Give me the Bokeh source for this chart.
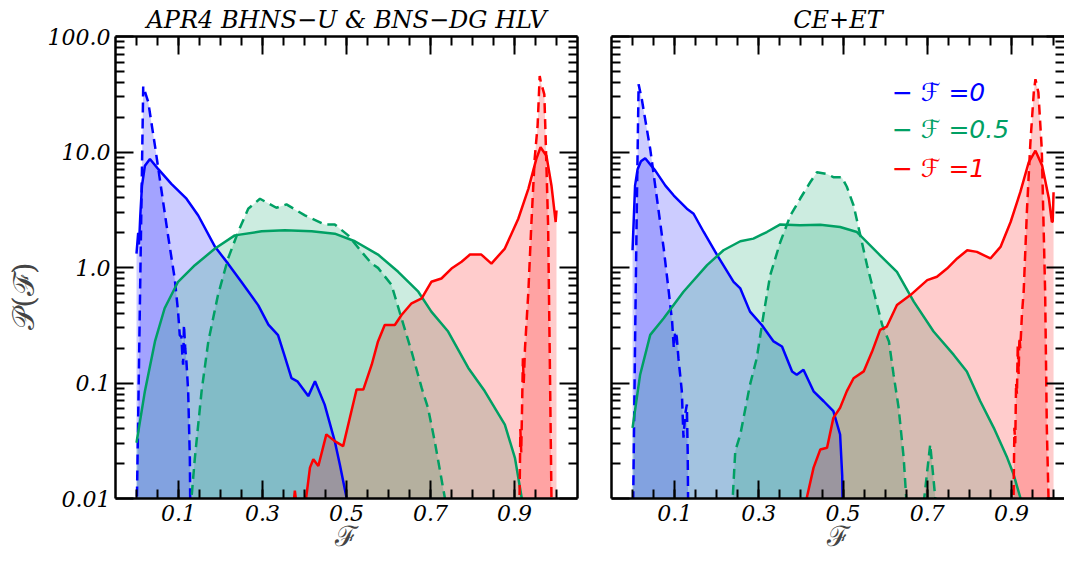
from bokeh.plotting import figure
from bokeh.layouts import row
from bokeh.models import FixedTicker, LogAxis, LinearAxis, Range1d
from bokeh.embed import file_html
from bokeh.resources import INLINE
from bokeh.core.properties import value

# ---------------- text / ticks ----------------
TITLE_LEFT = "APR4 BHNS\u2212U & BNS\u2212DG HLV"
TITLE_RIGHT = "CE+ET"
X_LABEL = "\u2131"
Y_LABEL = "\U0001D4AB(\u2131)"
Y_LABEL_PAD = "\u00a0" * 6
X_TICKS = [0.1, 0.3, 0.5, 0.7, 0.9]
X_TICK_LABELS = ["0.1", "0.3", "0.5", "0.7", "0.9"]
X_MINOR = [0.0, 0.05, 0.1, 0.15, 0.2, 0.25, 0.3, 0.35, 0.4, 0.45, 0.5,
           0.55, 0.6, 0.65, 0.7, 0.75, 0.8, 0.85, 0.9, 0.95, 1.0]
Y_TICKS = [0.01, 0.1, 1, 10, 100]
Y_TICK_LABELS = ["0.01", "0.1", "1.0", "10.0", "100.0"]
Y_MINOR = [m * d for d in (0.01, 0.1, 1, 10) for m in range(2, 10)]
LEGEND_LABELS = ["\u2212 \u2131 =0", "\u2212 \u2131 =0.5", "\u2212 \u2131 =1"]
COLORS = ["#0000FF", "#00A064", "#FF0000"]

# ---------------- left panel: APR4 BHNS-U & BNS-DG HLV ----------------
L0S_X = [0.0, 0.004, 0.006, 0.009, 0.013, 0.02, 0.032, 0.052, 0.083, 0.119, 0.147, 0.187, 0.218,
         0.25, 0.29, 0.314, 0.337, 0.353, 0.369, 0.383, 0.409, 0.425, 0.448, 0.472, 0.484, 0.5]
L0S_P = [1.32, 2.0, 1.58, 2.8, 5.1, 7.6, 8.7, 7.1, 5.3, 3.94, 2.82, 1.51, 1.08,
         0.75, 0.47, 0.32, 0.26, 0.17, 0.11, 0.1035, 0.077, 0.1035, 0.065, 0.0314, 0.0198, 0.0102]
L0D_X = [0.0, 0.001, 0.006, 0.011, 0.016, 0.028, 0.044, 0.06, 0.075, 0.091, 0.099, 0.103, 0.107,
         0.109, 0.111, 0.113, 0.116, 0.119, 0.123, 0.127, 0.129]
L0D_P = [0.004, 0.01, 0.15, 2.4, 37.0, 27.0, 11.3, 4.5, 1.9, 0.8, 0.415, 0.26, 0.25,
         0.18, 0.144, 0.32, 0.2, 0.15, 0.085, 0.0225, 0.003]
L5S_X = [0.0, 0.02, 0.044, 0.067, 0.099, 0.139, 0.187, 0.234, 0.298, 0.353, 0.417, 0.472, 0.52,
         0.575, 0.623, 0.671, 0.702, 0.742, 0.79, 0.829, 0.877, 0.901, 0.917, 0.925]
L5S_P = [0.0304, 0.085, 0.229, 0.444, 0.752, 1.047, 1.459, 1.897, 2.056, 2.099, 2.056, 1.963, 1.687,
         1.294, 0.918, 0.617, 0.415, 0.279, 0.135, 0.0851, 0.0437, 0.0225, 0.0102, 0.004]
L5D_X = [0.129, 0.131, 0.139, 0.155, 0.171, 0.194, 0.218, 0.242, 0.266, 0.294, 0.333, 0.357, 0.401,
         0.448, 0.472, 0.504, 0.536, 0.56, 0.575, 0.607, 0.631, 0.655, 0.679, 0.694, 0.71, 0.734, 0.74]
L5D_P = [0.003, 0.0102, 0.0225, 0.0851, 0.229, 0.577, 1.197, 2.032, 3.228, 3.936, 3.289, 3.516, 2.825,
         2.36, 2.36, 1.897, 1.365, 1.081, 0.993, 0.71, 0.363, 0.187, 0.0906, 0.061, 0.0314, 0.0102, 0.003]
L1S_X = [0.37, 0.374, 0.377, 0.381, 0.385, 0.398, 0.404, 0.413, 0.421, 0.433, 0.452, 0.472, 0.492,
         0.508, 0.524, 0.54, 0.56, 0.575, 0.591, 0.615, 0.631, 0.655, 0.679, 0.702, 0.726, 0.75,
         0.774, 0.794, 0.821, 0.845, 0.877, 0.909, 0.933, 0.952, 0.962, 0.976, 0.988, 0.998, 1.0]
L1S_P = [0.003, 0.009, 0.0117, 0.009, 0.003, 0.003, 0.0102, 0.0185, 0.0219, 0.0191, 0.0359, 0.0314, 0.0284,
         0.0501, 0.0877, 0.0877, 0.144, 0.229, 0.318, 0.318, 0.388, 0.49, 0.541, 0.752, 0.803, 0.98,
         1.12, 1.294, 1.294, 1.081, 1.459, 2.642, 4.797, 8.71, 11.0, 9.29, 5.13, 2.477, 3.12]
L1D_X = [0.904, 0.912, 0.914, 0.916, 0.918, 0.92, 0.922, 0.925, 0.933, 0.94, 0.948, 0.955, 0.96,
         0.963, 0.967, 0.971, 0.974, 0.98, 0.984, 0.988, 0.99]
L1D_P = [0.003, 0.0102, 0.04, 0.025, 0.06, 0.164, 0.1, 0.2, 0.617, 2.32, 8.71, 16.9, 45.5,
         39.8, 35.5, 31.6, 13.8, 2.32, 0.166, 0.0102, 0.003]

# ---------------- right panel: CE+ET ----------------
R0S_X = [0.0, 0.006, 0.012, 0.02, 0.03, 0.054, 0.078, 0.098, 0.129, 0.145, 0.169, 0.201, 0.24,
         0.256, 0.279, 0.307, 0.335, 0.355, 0.379, 0.39, 0.406, 0.43, 0.454, 0.477, 0.493, 0.498, 0.5]
R0S_P = [1.41, 5.12, 7.1, 8.3, 8.83, 6.9, 5.12, 4.2, 3.23, 2.92, 2.03, 1.28, 0.752,
         0.659, 0.415, 0.318, 0.229, 0.207, 0.126, 0.118, 0.13, 0.0847, 0.0695, 0.057, 0.0358, 0.0158, 0.005]
R0D_X = [0.0, 0.0016, 0.0065, 0.0104, 0.0144, 0.022, 0.042, 0.058, 0.074, 0.086, 0.094, 0.098, 0.101,
         0.105, 0.109, 0.117, 0.121, 0.125, 0.129, 0.131, 0.133]
R0D_P = [0.005, 0.0102, 0.316, 4.0, 38.5, 28.6, 10.6, 3.94, 1.46, 0.617, 0.34, 0.2, 0.28,
         0.251, 0.164, 0.0851, 0.0336, 0.0537, 0.0652, 0.0251, 0.003]
R5S_X = [0.0, 0.018, 0.042, 0.074, 0.121, 0.177, 0.216, 0.256, 0.287, 0.319, 0.351, 0.398, 0.446,
         0.493, 0.533, 0.588, 0.628, 0.668, 0.715, 0.763, 0.794, 0.826, 0.858, 0.89, 0.905, 0.921, 0.93]
R5S_P = [0.0409, 0.118, 0.261, 0.363, 0.617, 1.047, 1.41, 1.687, 1.778, 2.028, 2.36, 2.317, 2.344,
         2.239, 2.028, 1.276, 0.918, 0.506, 0.279, 0.175, 0.126, 0.0695, 0.0409, 0.0225, 0.0162, 0.0102, 0.004]
R5D_X = [0.236, 0.238, 0.244, 0.256, 0.279, 0.295, 0.311, 0.327, 0.351, 0.375, 0.398, 0.422, 0.438,
         0.462, 0.477, 0.497, 0.509, 0.525, 0.541, 0.557, 0.577, 0.593, 0.609, 0.62, 0.632, 0.644,
         0.65, 0.655, 0.69, 0.693, 0.707, 0.719, 0.724]
R5D_P = [0.003, 0.0102, 0.0258, 0.0358, 0.0966, 0.164, 0.388, 0.859, 1.663, 2.825, 3.936, 5.47, 6.683,
         6.457, 6.053, 6.053, 5.0, 3.443, 1.901, 1.047, 0.541, 0.318, 0.229, 0.118, 0.061, 0.0225,
         0.0102, 0.002, 0.002, 0.0102, 0.0294, 0.0102, 0.002]
R1S_X = [0.41, 0.414, 0.43, 0.446, 0.462, 0.477, 0.493, 0.509, 0.525, 0.549, 0.569, 0.588, 0.604, 0.628,
         0.66, 0.7, 0.723, 0.747, 0.771, 0.795, 0.818, 0.85, 0.874, 0.898, 0.921, 0.941, 0.957,
         0.973, 0.989, 0.996, 0.998, 1.0]
R1S_P = [0.004, 0.0102, 0.0185, 0.0266, 0.0275, 0.0499, 0.061, 0.085, 0.11, 0.126, 0.187, 0.288, 0.308, 0.473,
         0.577, 0.778, 0.832, 0.98, 1.197, 1.41, 1.365, 1.197, 1.507, 2.477, 4.487, 8.147, 10.26,
         7.621, 3.936, 2.477, 2.5, 4.49]
R1D_X = [0.903, 0.905, 0.907, 0.909, 0.911, 0.913, 0.915, 0.917, 0.919, 0.921, 0.925, 0.929, 0.937,
         0.945, 0.953, 0.957, 0.964, 0.972, 0.98, 0.984, 0.988, 0.99]
R1D_P = [0.003, 0.0102, 0.0409, 0.03, 0.1, 0.08, 0.214, 0.12, 0.25, 0.2, 0.4, 0.617, 3.228,
         12.1, 32.7, 42.7, 32.7, 10.6, 0.617, 0.0407, 0.0102, 0.003]

LEFT_CURVES = [(L0S_X, L0S_P, 0, "solid"), (L0D_X, L0D_P, 0, "dashed"),
               (L5S_X, L5S_P, 1, "solid"), (L5D_X, L5D_P, 1, "dashed"),
               (L1S_X, L1S_P, 2, "solid"), (L1D_X, L1D_P, 2, "dashed")]
RIGHT_CURVES = [(R0S_X, R0S_P, 0, "solid"), (R0D_X, R0D_P, 0, "dashed"),
                (R5S_X, R5S_P, 1, "solid"), (R5D_X, R5D_P, 1, "dashed"),
                (R1S_X, R1S_P, 2, "solid"), (R1D_X, R1D_P, 2, "dashed")]

SERIF = "DejaVu Serif"
FLOOR = 1e-4
FIG_H = 559
TOP = 34
FRAME_H = 464


def style_axis(ax, ticks, minor, labels, line=True):
    ax.ticker = FixedTicker(ticks=ticks, minor_ticks=minor)
    ax.major_tick_in = 18
    ax.major_tick_out = 0
    ax.minor_tick_in = 9
    ax.minor_tick_out = 0
    ax.major_tick_line_width = 2
    ax.minor_tick_line_width = 2
    ax.major_tick_line_color = "black"
    ax.minor_tick_line_color = "black"
    ax.axis_line_width = 2.5
    ax.axis_line_color = "black" if line else None
    ax.major_label_text_font = SERIF
    ax.major_label_text_font_style = "italic"
    ax.major_label_text_font_size = "22px"
    ax.major_label_text_color = "black"
    if labels is None:
        ax.major_label_overrides = {t: "" for t in ticks}
        ax.major_label_standoff = 0
    else:
        ax.major_label_overrides = dict(zip(ticks, labels))


def make_fig(width, bl, br, x_end, title, show_y):
    p = figure(width=width, height=FIG_H, x_range=Range1d(-0.05, x_end),
               y_range=Range1d(0.01, 100), y_axis_type="log",
               output_backend="svg", toolbar_location=None,
               min_border_left=bl, min_border_right=br,
               min_border_top=TOP, min_border_bottom=FIG_H - TOP - FRAME_H)
    p.outline_line_color = None
    p.grid.visible = False
    p.background_fill_color = "white"
    p.border_fill_color = "white"
    p.title.text = title
    p.title.align = "center"
    p.title.text_font = SERIF
    p.title.text_font_style = "italic"
    p.title.text_font_size = "24px"
    p.title.text_color = "black"
    p.title.standoff = 6

    xa = p.xaxis[0]
    style_axis(xa, X_TICKS, X_MINOR, X_TICK_LABELS)
    xa.major_label_standoff = 6
    xa.axis_label = X_LABEL
    xa.axis_label_text_font = SERIF
    xa.axis_label_text_font_style = "normal"
    xa.axis_label_text_font_size = "28px"
    xa.axis_label_standoff = -4

    ya = p.yaxis[0]
    style_axis(ya, Y_TICKS, Y_MINOR, Y_TICK_LABELS if show_y else None)
    if show_y:
        ya.major_label_standoff = 5
        ya.axis_label = Y_LABEL + Y_LABEL_PAD
        ya.axis_label_text_font = SERIF
        ya.axis_label_text_font_style = "normal"
        ya.axis_label_text_font_size = "30px"
        ya.axis_label_standoff = 4

    top = LinearAxis()
    style_axis(top, X_TICKS, X_MINOR, None)
    p.add_layout(top, "above")
    right = LogAxis()
    style_axis(right, Y_TICKS, Y_MINOR, None, line=show_y)
    p.add_layout(right, "right")
    return p


def draw(p, curves):
    for xs, ps, ci, style in curves:
        p.varea(x=xs, y1=ps, y2=[FLOOR] * len(xs), fill_color=COLORS[ci], fill_alpha=0.2)
    for xs, ps, ci, style in curves:
        p.line(xs, ps, line_color=COLORS[ci], line_width=2.5,
               line_dash="solid" if style == "solid" else "10 6")


p1 = make_fig(594, 115, 17, 1.05, TITLE_LEFT, True)
draw(p1, LEFT_CURVES)

p2 = make_fig(470, 17, 0, 1.026, TITLE_RIGHT, False)
draw(p2, RIGHT_CURVES)
p2.text(x=[0.616, 0.616, 0.616], y=[32.9, 15.8, 7.13], text=LEGEND_LABELS,
        text_color=COLORS, text_font=value("DejaVu Sans"), text_font_style="italic",
        text_font_size="25px", text_baseline="alphabetic", text_align="left")

layout = row(p1, p2)
open("out.html", "w").write(file_html(layout, INLINE))
